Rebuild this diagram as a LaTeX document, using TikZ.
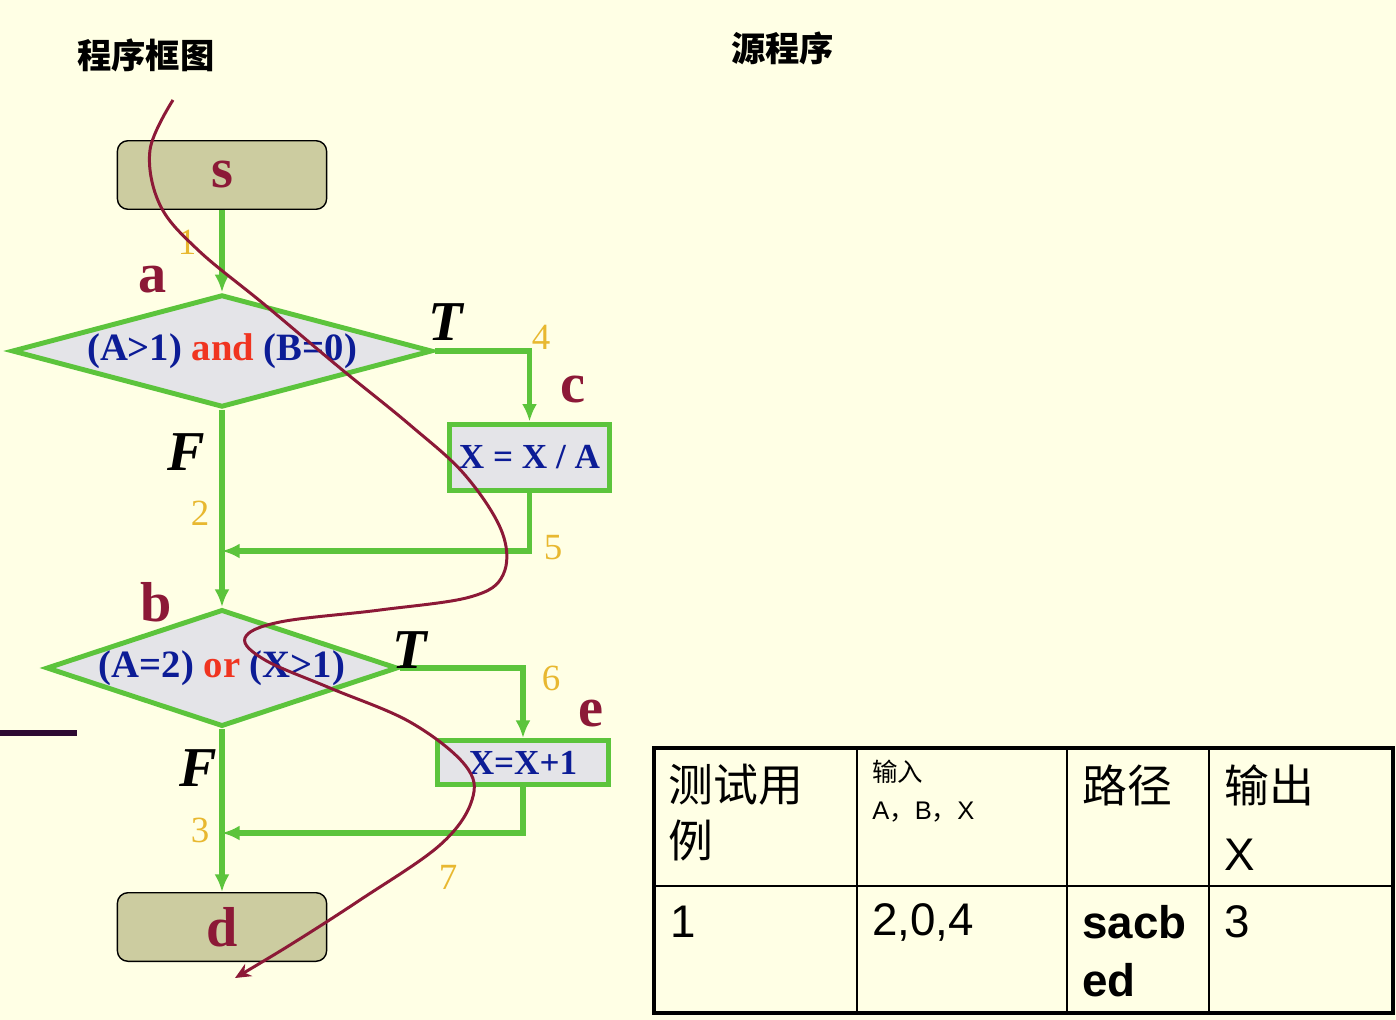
\documentclass[tikz,border=0pt]{standalone}
\usepackage{fontspec}
\setmainfont{Liberation Serif}
\newfontfamily\cjk{Noto Sans CJK SC}
\newfontfamily\arialf{Liberation Sans}
\usetikzlibrary{shapes.geometric,arrows.meta}

\definecolor{bgyellow}{RGB}{255,255,229}
\definecolor{khaki}{RGB}{204,204,160}
\definecolor{maroon}{RGB}{140,25,55}
\definecolor{flowgreen}{RGB}{92,196,60}
\definecolor{marble}{RGB}{228,228,232}
\definecolor{condblue}{RGB}{12,28,150}
\definecolor{andred}{RGB}{240,52,32}
\definecolor{numyellow}{RGB}{232,184,48}
\definecolor{sepline}{RGB}{45,10,50}

\tikzset{
  term/.style={draw=black, line width=0.8pt, rounded corners=6pt, fill=khaki,
    minimum width=119pt, minimum height=39pt, inner sep=0pt},
  decision/.style={diamond, draw=flowgreen, line width=2.8pt, fill=marble, inner sep=0pt,
    text=condblue, font=\bfseries\fontsize{22}{24}\selectfont},
  process/.style={rectangle, draw=flowgreen, line width=2.8pt, fill=marble, inner sep=0pt,
    text=condblue, font=\bfseries\fontsize{20}{22}\selectfont},
  letter/.style={text=maroon, font=\bfseries\fontsize{32}{34}\selectfont, inner sep=0pt},
  branch/.style={font=\bfseries\itshape\fontsize{32}{34}\selectfont, inner sep=0pt},
  edgenum/.style={text=numyellow, font=\fontsize{21}{23}\selectfont, inner sep=0pt},
  flow/.style={draw=flowgreen, line width=3pt, -{Latex[length=10pt,width=8.5pt]}},
  route/.style={draw=maroon, line width=1.7pt, -{Stealth[length=9pt,width=8pt]}},
  cell/.style={anchor=west, inner sep=0pt},
  cjkbig/.style={cell, font=\cjk\fontsize{25.5}{28}\selectfont},
  cjksmall/.style={cell, font=\cjk\fontsize{14.5}{16}\selectfont},
  arialbig/.style={cell, font=\arialf\fontsize{26}{28}\selectfont}
}

\begin{document}
\begin{tikzpicture}[x=0.5687pt,y=-0.5687pt]

\fill[bgyellow] (0,0) rectangle (1396,1020);
\useasboundingbox (0,0) rectangle (1396,1020);

\node[cell, font=\cjk\bfseries\fontsize{19.5}{22}\selectfont] at (77,55) (title){程序框图};
\node[cell, font=\cjk\bfseries\fontsize{19.5}{22}\selectfont] at (731,48) (source){源程序};

\node[term, letter] at (222,175) (s){s};
\node[decision, aspect=3.6, minimum width=239pt, minimum height=64pt] at (222,351) (a){(A>1) \textcolor{andred}{and} (B=0)};
\node[process, minimum width=91pt, minimum height=38pt] at (529.5,457.5) (c){X = X / A};
\node[decision, aspect=3.0, minimum width=199pt, minimum height=64pt] at (222,668) (b){(A=2) \textcolor{andred}{or} (X>1)};
\node[process, minimum width=97pt, minimum height=25pt] at (523,762.5) (e){X=X+1};
\node[term, letter] at (222,927) (d){d};

\coordinate (j1) at (222,551);
\coordinate (j2) at (222,833);

\draw[flow] (s) -- (a);
\draw[flow] (a.east) -| (c.north);
\draw[flow] (c.south) |- (j1);
\draw[flow] (a.south) -- (b.north);
\draw[flow] (b.east) -| (e.north);
\draw[flow] (e.south) |- (j2);
\draw[flow] (b.south) -- (d.north);

\node[letter] at (153,280) (la){a};
\node[letter] at (573,390) (lc){c};
\node[letter] at (156,602) (lb){b};
\node[letter] at (591,714) (le){e};

\node[branch] at (446,322) (ta){T};
\node[branch] at (186,452) (fa){F};
\node[branch] at (410,650) (tb){T};
\node[branch] at (198,768) (fb){F};

\node[edgenum] at (187,242) (n1){1};
\node[edgenum] at (200,513) (n2){2};
\node[edgenum] at (200,830) (n3){3};
\node[edgenum] at (541,337) (n4){4};
\node[edgenum] at (553,548) (n5){5};
\node[edgenum] at (551,678) (n6){6};
\node[edgenum] at (448,877) (n7){7};

\draw[sepline, line width=3.4pt] (0,733) -- (77,733);

\draw[route] plot[smooth, tension=0.6] coordinates {(173,100) (150,150) (160,205) (198,250)
  (265,305) (340,368) (410,425) (465,475) (502,532) (503,575) (470,597) (380,610) (280,622)
  (245,638) (265,660) (330,688) (410,722) (465,765) (472,800) (440,845) (360,900) (290,945) (235,978)};

\draw[line width=1.8pt] (654,748) rectangle (1393,1013);
\draw[line width=1.2pt] (857,748) -- (857,1013);
\draw[line width=1.2pt] (1067,748) -- (1067,1013);
\draw[line width=1.2pt] (1209,748) -- (1209,1013);
\draw[line width=1.2pt] (654,886) -- (1393,886);

\node[cjkbig] at (668,785) (h1){测试用};
\node[cjkbig] at (668,840) (h1b){例};
\node[cjksmall] at (872,772) (h2){输入};
\node[cell, font=\arialf\fontsize{14.5}{16}\selectfont] at (872,812) (h2b){A{\cjk ，}B{\cjk ，}X};
\node[cjkbig] at (1082,785) (h3){路径};
\node[cjkbig] at (1224,785) (h4){输出};
\node[arialbig] at (1224,855) (h4b){X};

\node[arialbig] at (670,922) (r1){1};
\node[arialbig] at (872,922) (r2){2,0,4};
\node[arialbig, font=\arialf\bfseries\fontsize{26}{28}\selectfont] at (1082,922) (r3){sacb};
\node[arialbig, font=\arialf\bfseries\fontsize{26}{28}\selectfont] at (1082,980) (r3b){ed};
\node[arialbig] at (1224,922) (r4){3};

\end{tikzpicture}
\end{document}
